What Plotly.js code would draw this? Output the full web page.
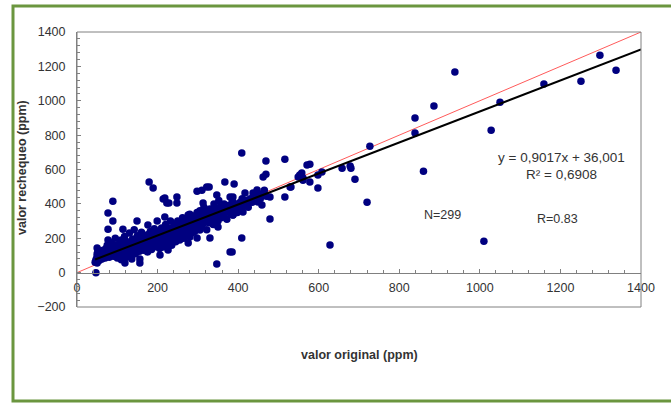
<!DOCTYPE html>
<html>
<head>
<meta charset="utf-8">
<script src="https://cdn.plot.ly/plotly-3.0.1.min.js"></script>
<style>html,body{margin:0;padding:0;background:#fff;}#chart{width:671px;height:406px;}</style>
</head>
<body>
<div id="chart"></div>
<script>
// Original values (ppm)
const xOriginal = [
45,47,50,50,52,55,55,58,60,62,65,65,68,70,70,72,75,75,78,80,80,82,85,85,88,90,90,92,95,95,98,100,100,102,105,105,108,110,110,112,115,115,118,120,120,122,125,125,128,130,130,132,135,135,138,140,140,142,145,145,148,150,150,152,155,155,158,160,160,162,165,165,168,170,170,172,175,175,178,180,180,182,185,185,188,190,190,192,195,195,198,200,200,202,205,205,208,210,210,212,215,215,218,220,220,222,225,225,228,230,230,232,235,235,238,240,240,242,245,245,248,250,250,252,255,255,258,260,260,262,265,265,268,270,270,272,275,275,278,280,280,282,285,285,288,290,290,292,295,295,298,300,300,302,305,305,308,310,310,312,315,315,318,320,320,322,325,325,328,330,330,332,335,338,340,340,342,345,348,350,350,352,355,358,360,360,362,365,368,370,372,375,378,380,385,388,390,395,398,400,405,408,410,415,420,425,430,435,440,445,450,455,460,465,470,
50,47,50,50,77,89,77,89,77,114,149,176,199,218,179,189,223,136,156,156,119,206,
298,310,322,328,367,214,228,248,248,218,276,313,347,355,380,385,318,335,338,350,387,280,298,330,276,256,243,231,214,263,226,214,226,380,347,288,305,285,322,
409,469,516,571,553,561,462,469,390,447,437,417,529,516,479,409,387,385,479,459,412,397,449,387,424,
531,549,558,561,578,598,598,608,658,680,690,720,628,727,578,
678,839,839,886,938,1050,1028,860,1010,1159,1251,1298,1338
];
// Recheck values (ppm)
const yRecheck = [
60,75,95,110,130,70,90,100,115,80,95,130,105,85,120,140,100,160,115,90,130,150,105,175,120,95,140,160,110,200,130,85,150,120,170,100,140,75,190,125,155,105,210,135,165,90,145,180,120,160,230,105,175,140,195,125,155,250,170,110,190,140,215,160,125,180,200,150,235,170,130,190,210,160,145,185,220,120,175,200,155,240,180,135,210,170,195,255,150,225,185,210,165,240,195,140,220,180,260,200,160,235,210,190,280,225,170,250,205,240,185,300,220,160,260,230,200,275,215,180,250,235,300,205,265,190,240,280,220,320,250,200,270,235,310,255,215,290,265,245,340,280,230,300,260,330,275,240,310,285,350,295,260,320,280,360,300,270,340,315,290,380,330,300,360,250,320,345,290,370,330,310,350,280,330,400,360,310,340,375,300,420,345,320,380,355,330,400,350,370,310,390,360,345,380,410,365,395,350,385,410,375,430,395,420,380,430,410,440,420,460,430,450,480,445,
143,0,85,56,347,416,253,300,190,253,300,277,300,434,527,492,405,79,79,56,56,102,
474,480,498,498,527,428,405,440,405,323,335,405,451,382,440,411,347,364,294,265,335,207,201,201,172,294,277,259,236,248,190,149,131,120,50,265,248,306,294,
696,649,660,626,568,550,556,573,515,481,463,463,498,440,312,201,335,120,440,393,353,364,411,440,405,
498,557,580,538,527,492,568,585,608,608,544,410,161,736,631,
620,900,812,969,1167,992,829,590,183,1097,1114,1265,1178
];
// Regression line and identity line
const regSlope = 0.9017, regIntercept = 36.001;
const regX = [45, 1400];
const idX = [0, 1400];

const regY = regX.map(v => regSlope * v + regIntercept);

const fam = '"Liberation Sans", Arial, sans-serif';
const font = {family: fam, size: 12.5, color: '#333333'};

const traces = [
  {x: idX, y: idX, type: 'scatter', mode: 'lines', line: {color: '#ff5a5a', width: 1}, hoverinfo: 'skip', showlegend: false},
  {x: xOriginal, y: yRecheck, type: 'scatter', mode: 'markers', marker: {color: '#000080', size: 7.5}, showlegend: false},
  {x: regX, y: regY, type: 'scatter', mode: 'lines', line: {color: '#000000', width: 2}, hoverinfo: 'skip', showlegend: false}
];

const L = 77, T = 32, W = 564, H = 275;
const px = v => (v - L) / W;
const py = v => (T + H - v) / H;

const layout = {
  width: 671, height: 406,
  margin: {l: L, r: 671 - L - W, t: T, b: 406 - T - H},
  paper_bgcolor: '#ffffff', plot_bgcolor: '#ffffff',
  font: font,
  showlegend: false,
  xaxis: {
    range: [0, 1400], tickvals: [0,200,400,600,800,1000,1200,1400],
    anchor: 'free', position: 0.125,
    showline: true, linecolor: '#808080', linewidth: 1,
    ticks: 'inside', ticklen: 4, tickcolor: '#808080',
    minor: {dtick: 40, tick0: 0, ticks: 'inside', ticklen: 3, tickcolor: '#808080'},
    ticklabelstandoff: 3,
    showgrid: false, zeroline: false, tickfont: font
  },
  yaxis: {
    range: [-200, 1400], tickvals: [-200,0,200,400,600,800,1000,1200,1400],
    showline: true, linecolor: '#808080', linewidth: 1,
    ticks: 'inside', ticklen: 4, tickcolor: '#808080',
    minor: {dtick: 40, tick0: 0, ticks: 'inside', ticklen: 3, tickcolor: '#808080'},
    ticklabelstandoff: 8,
    showgrid: false, zeroline: false, tickfont: font
  },
  shapes: [
    {type: 'rect', xref: 'paper', yref: 'paper', x0: 0, x1: 1, y0: 0, y1: 1, line: {color: '#808080', width: 1}},
    {type: 'rect', xref: 'paper', yref: 'paper', x0: px(13), x1: px(680), y0: py(401), y1: py(6), line: {color: '#6b963f', width: 3}}
  ],
  annotations: [
    {xref: 'paper', yref: 'paper', x: px(359), y: py(355), text: '<b>valor original (ppm)</b>', showarrow: false, font: font, xanchor: 'center', yanchor: 'middle'},
    {xref: 'paper', yref: 'paper', x: px(22), y: py(168), text: '<b>valor rechequeo (ppm)</b>', textangle: -90, showarrow: false, font: font, xanchor: 'center', yanchor: 'middle'},
    {xref: 'paper', yref: 'paper', x: px(561), y: py(157), text: 'y = 0,9017x + 36,001', showarrow: false, font: {family: fam, size: 13.5, color: '#333333'}, xanchor: 'center', yanchor: 'middle'},
    {xref: 'paper', yref: 'paper', x: px(561), y: py(174), text: 'R² = 0,6908', showarrow: false, font: {family: fam, size: 13.5, color: '#333333'}, xanchor: 'center', yanchor: 'middle'},
    {xref: 'paper', yref: 'paper', x: px(442), y: py(215), text: 'N=299', showarrow: false, font: font, xanchor: 'center', yanchor: 'middle'},
    {xref: 'paper', yref: 'paper', x: px(557), y: py(219), text: 'R=0.83', showarrow: false, font: font, xanchor: 'center', yanchor: 'middle'}
  ]
};

Plotly.newPlot('chart', traces, layout, {staticPlot: true, displayModeBar: false});
</script>
</body>
</html>
